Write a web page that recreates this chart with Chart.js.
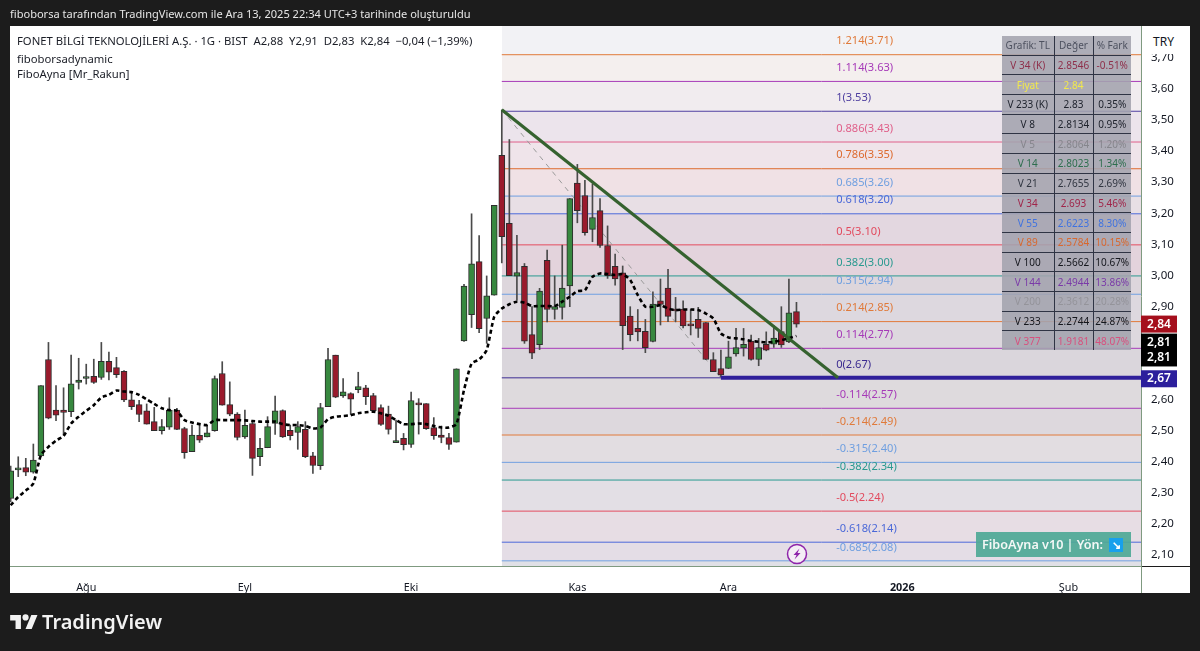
<!DOCTYPE html>
<html lang="tr">
<head>
<meta charset="utf-8">
<title>FONET 1G</title>
<script src="https://cdn.jsdelivr.net/npm/chart.js@4"></script>
<style>
  html, body { margin: 0; padding: 0; width: 1200px; height: 651px; overflow: hidden; background: #1c1c1c; }
  body { position: relative; font-family: "Noto Sans", sans-serif; }
  canvas { position: absolute; left: 0; top: 0; }
  .abs { position: absolute; white-space: pre; }
  #shot { left: 10px; top: 6px; color: #e6e6e6; font-size: 11.05px; line-height: 16px; }
  .legend { left: 17px; color: #1a1d26; font-size: 11.3px; line-height: 15px; }
  #tryBox { left: 1144px; top: 30px; width: 39px; height: 24px; padding-right: 4px; background: #fff; border-radius: 4px; color: #131722;
            font-size: 12px; line-height: 24px; text-align: center; }
  #fiboTable { position: absolute; left: 1002px; top: 36px; width: 129px; table-layout: fixed; border-collapse: collapse;
               background: rgba(163, 163, 174, .88); font-size: 10px; }
  #fiboTable td { height: 18.7px; padding: 0; text-align: center; border: 1px solid #2f3444; border-left: 0; border-right: 0; }
  #fiboTable td + td { border-left: 1px solid #2f3444; }
  #fiboTable tr:first-child td { border-top: 0; }
  #fiboTable tr:last-child td { border-bottom: 0; }
  #badge { left: 976px; top: 532px; width: 155px; height: 25px; background: rgba(78, 168, 150, .92); color: #f4f8f6;
           font-size: 12.6px; line-height: 25px; text-indent: 6px; font-weight: 600; }
  #badge span { position: absolute; left: 133px; top: 6px; width: 14px; height: 14px; background: #18a0ec; color: #fff;
                font-size: 11px; line-height: 14px; text-indent: 0; text-align: center; font-weight: 700; }
  #brand { left: 42px; top: 607px; color: #f2f2f2; font-size: 20px; line-height: 30px; font-weight: 600; letter-spacing: 0; }
</style>
</head>
<body>
<canvas id="chart" width="1200" height="651"></canvas>
<div class="abs" id="shot">fiboborsa tarafından TradingView.com ile Ara 13, 2025 22:34 UTC+3 tarihinde oluşturuldu</div>
<div class="abs legend" style="top:33px">FONET BİLGİ TEKNOLOJİLERİ A.Ş. · 1G · BIST  A2,88  Y2,91  D2,83  K2,84  −0,04 (−1,39%)</div>
<div class="abs legend" style="top:51px">fiboborsadynamic</div>
<div class="abs legend" style="top:66px">FiboAyna [Mr_Rakun]</div>
<table id="fiboTable"><colgroup><col style="width:52px"><col style="width:39px"><col style="width:38px"></colgroup><tbody id="fiboBody"></tbody></table>
<div class="abs" id="tryBox">TRY</div>
<div class="abs" id="badge">FiboAyna v10 | Yön: <span>↘</span></div>
<svg class="abs" style="left:786px;top:543px" width="22" height="22" viewBox="0 0 22 22">
  <circle cx="11" cy="11" r="9.5" fill="#f4eef5" stroke="#8e24aa" stroke-width="1.5"/>
  <path d="M13.5 5.5 L7.5 12 H10.5 L8.5 16.5 L14.5 10 H11.5 Z" fill="#8e24aa"/>
</svg>
<svg class="abs" style="left:10px;top:612px" width="28" height="20" viewBox="0 0 36 26">
  <path fill="#f2f2f2" d="M14 22H7V11H0V4h14v18zM28 22h-8l7.5-18h8L28 22z"/><circle fill="#f2f2f2" cx="20" cy="7" r="4"/>
</svg>
<div class="abs" id="brand">TradingView</div>

<script>
// daily candles
const opens = [2.279,2.371,2.378,2.363,2.416,2.726,2.563,2.563,2.558,2.652,2.665,2.672,2.668,2.72,2.70,2.688,2.596,2.581,2.561,2.526,2.497,2.508,2.563,2.504,2.429,2.482,2.477,2.497,2.681,2.581,2.55,2.477,2.52,2.413,2.442,2.52,2.562,2.498,2.491,2.501,2.416,2.384,2.574,2.74,2.609,2.616,2.629,2.635,2.61,2.571,2.55,2.458,2.472,2.453,2.582,2.584,2.507,2.483,2.475,2.46,2.786,2.87,3.041,2.858,2.933,3.383,3.164,2.994,3.026,2.806,2.774,3.045,2.887,2.894,2.963,3.294,3.254,3.145,3.205,3.093,3.026,3.005,2.866,2.826,2.817,2.784,2.915,2.956,2.885,2.888,2.837,2.855,2.845,2.726,2.697,2.697,2.744,2.763,2.785,2.726,2.775,2.775,2.816,2.783,2.88];
const closes = [2.368,2.375,2.363,2.402,2.642,2.537,2.547,2.556,2.648,2.66,2.667,2.652,2.72,2.685,2.677,2.596,2.574,2.549,2.518,2.497,2.51,2.563,2.501,2.426,2.483,2.466,2.49,2.665,2.579,2.55,2.475,2.514,2.408,2.44,2.51,2.561,2.477,2.481,2.51,2.413,2.385,2.571,2.726,2.605,2.622,2.598,2.639,2.606,2.561,2.517,2.501,2.465,2.452,2.594,2.58,2.503,2.481,2.475,2.453,2.696,2.962,3.034,2.825,2.931,3.222,3.121,2.996,3.006,2.785,2.746,2.946,2.887,2.896,2.956,3.244,3.205,3.134,3.183,3.093,2.996,2.985,2.835,2.806,2.815,2.764,2.904,2.903,2.865,2.882,2.834,2.834,2.826,2.726,2.687,2.676,2.735,2.764,2.775,2.726,2.764,2.756,2.795,2.773,2.876,2.84];
const highs = [2.383,2.413,2.408,2.454,2.642,2.781,2.642,2.635,2.74,2.73,2.711,2.727,2.781,2.75,2.733,2.69,2.62,2.595,2.583,2.572,2.533,2.603,2.569,2.508,2.515,2.515,2.515,2.673,2.719,2.654,2.555,2.563,2.526,2.472,2.542,2.608,2.564,2.515,2.526,2.526,2.427,2.585,2.762,2.74,2.665,2.619,2.685,2.643,2.617,2.58,2.576,2.531,2.488,2.621,2.60,2.584,2.539,2.512,2.488,2.696,2.968,3.195,3.125,2.995,3.222,3.529,3.434,3.126,3.035,2.896,2.955,3.078,2.995,3.094,3.244,3.354,3.303,3.291,3.244,3.156,3.065,3.027,2.896,2.887,2.855,2.944,2.985,3.016,2.926,2.915,2.887,2.894,2.845,2.748,2.756,2.785,2.826,2.826,2.805,2.794,2.815,2.835,2.896,2.985,2.91];
const lows = [2.268,2.349,2.352,2.36,2.413,2.535,2.529,2.483,2.542,2.631,2.647,2.649,2.662,2.66,2.668,2.59,2.565,2.526,2.518,2.497,2.486,2.501,2.50,2.408,2.429,2.459,2.477,2.495,2.579,2.545,2.467,2.472,2.353,2.384,2.442,2.485,2.475,2.467,2.437,2.41,2.359,2.372,2.574,2.603,2.604,2.549,2.619,2.581,2.555,2.514,2.486,2.458,2.435,2.443,2.486,2.501,2.469,2.458,2.437,2.46,2.784,2.829,2.812,2.778,2.933,3.037,2.996,2.917,2.778,2.729,2.758,2.847,2.856,2.856,2.896,3.166,3.126,3.105,3.087,2.987,2.965,2.758,2.786,2.786,2.748,2.783,2.837,2.848,2.848,2.828,2.805,2.797,2.726,2.687,2.67,2.697,2.737,2.737,2.724,2.706,2.754,2.765,2.765,2.78,2.83];
// dashed black moving average
const maValues = [2.257,2.284,2.304,2.327,2.418,2.445,2.465,2.48,2.52,2.542,2.561,2.579,2.604,2.612,2.626,2.623,2.621,2.612,2.598,2.583,2.569,2.563,2.561,2.531,2.523,2.518,2.515,2.531,2.531,2.531,2.531,2.53,2.528,2.526,2.526,2.526,2.518,2.515,2.515,2.512,2.504,2.507,2.534,2.542,2.544,2.547,2.553,2.556,2.558,2.553,2.545,2.531,2.518,2.518,2.52,2.518,2.512,2.507,2.507,2.518,2.628,2.713,2.726,2.756,2.864,2.89,2.904,2.912,2.909,2.898,2.898,2.898,2.898,2.912,2.928,2.946,2.949,2.992,3.003,3.001,2.998,3.001,2.982,2.933,2.896,2.896,2.901,2.89,2.885,2.887,2.887,2.885,2.874,2.858,2.81,2.797,2.794,2.791,2.786,2.783,2.781,2.783,2.788,2.794,2.802];

// fib levels: ratio, printed price, line price as read against the axis
const fibRatios = ['1.214','1.114','1','0.886','0.786','0.685','0.618','0.5','0.382','0.315','0.214','0.114','0','-0.114','-0.214','-0.315','-0.382','-0.5','-0.618','-0.685'];
const fibPrices = ['3.71','3.63','3.53','3.43','3.35','3.26','3.20','3.10','3.00','2.94','2.85','2.77','2.67','2.57','2.49','2.40','2.34','2.24','2.14','2.08'];
const fibLevels = [3.707,3.621,3.525,3.426,3.34,3.252,3.195,3.095,2.995,2.936,2.848,2.762,2.667,2.569,2.483,2.395,2.338,2.238,2.138,2.078];
const fibColors = ['#e07a3a','#a63ab8','#4f3fa0','#e0608a','#dd6a2e','#6f9fe0','#4a68d8','#e24a5e','#2a9a90','#6f9fe0','#e07a3a','#a63ab8','#3a2a90','#a63ab8','#e07a3a','#6f9fe0','#2a9a90','#e24a5e','#4a68d8','#6f9fe0'];
const bandColors = ['#f4efee','#f1ecef','#ece4ec','#efe4ea','#f0e1e5','#e8dfe5','#e3d7e0','#e3d3dc','#ddd6dc','#ddd8df','#ddd8de','#dad6dc','#dedadd','#ddd8dd','#e2dde1','#e0dde3','#e3dfe5','#e7dde4','#e4dde6','#e0e0e6'];
const topBandColor = '#f2f2f5';

// axis labels
const priceTicks = [3.7,3.6,3.5,3.4,3.3,3.2,3.1,3.0,2.9,2.6,2.5,2.4,2.3,2.2,2.1];
const timeTicks = [10,31,53,75,95,118,140];
const timeLabels = ['Ağu','Eyl','Eki','Kas','Ara','2026','Şub'];

// right hand price tags
const tagLabels = ['2,84','2,81','2,81','2,67'];
const tagPrices = [2.84,2.782,2.731,2.664];
const tagColors = ['#a50f1c','#000000','#000000','#2c1f9c'];

// MA table top right
const tableNames = ['Grafik: TL','V 34 (K)','Fiyat','V 233 (K)','V 8','V 5','V 14','V 21','V 34','V 55','V 89','V 100','V 144','V 200','V 233','V 377'];
const tableValues = ['Değer','2.8546','2.84','2.83','2.8134','2.8064','2.8023','2.7655','2.693','2.6223','2.5784','2.5662','2.4944','2.3612','2.2744','1.9181'];
const tableDiffs = ['% Fark','-0.51%','','0.35%','0.95%','1.20%','1.34%','2.69%','5.46%','8.30%','10.15%','10.67%','13.86%','20.28%','24.87%','48.07%'];
const tableColors = ['#4e5260','#8e2f4a','#f2e84a','#20242e','#20242e','#85858c','#2e6e4e','#303540','#a0254a','#3f72e0','#d8682e','#14161c','#7a3aa8','#94949a','#14161c','#d8507e'];

const fiboBody = document.getElementById('fiboBody');
tableNames.forEach((name, i) => {
    const row = document.createElement('tr');
    row.style.color = tableColors[i];
    [name, tableValues[i], tableDiffs[i]].forEach(text => {
        const cell = document.createElement('td');
        cell.textContent = text;
        row.appendChild(cell);
    });
    fiboBody.appendChild(row);
});

// pane limits in price and bar index
const yMin = 2.0614, yMax = 3.7994, xMin = -0.09, xMax = 149.6;
const fibStart = 65;

const upColor = '#37883f', downColor = '#9a1a2c', edgeColor = '#2d2d2d';
const bars = opens.map((_, i) => i);

const datasets = [];

// bands behind everything, one per fib level
datasets.push({
    type: 'line', order: 20, data: [{x: fibStart, y: yMax}, {x: xMax, y: yMax}],
    borderWidth: 0, pointRadius: 0,
    fill: {target: {value: fibLevels[0]}, above: topBandColor, below: topBandColor}
});
fibLevels.forEach((level, i) => {
    const next = i + 1 < fibLevels.length ? fibLevels[i + 1] : yMin;
    datasets.push({
        type: 'line', order: 19, data: [{x: fibStart, y: level}, {x: xMax, y: level}],
        borderWidth: 0, pointRadius: 0,
        fill: {target: {value: next}, above: bandColors[i], below: bandColors[i]}
    });
});
fibLevels.forEach((level, i) => {
    datasets.push({
        type: 'line', order: 10, data: [{x: fibStart, y: level}, {x: xMax, y: level}],
        borderColor: fibColors[i], borderWidth: 1, pointRadius: 0, fill: false
    });
});

// dashed base of the fib, level zero line, trend line
datasets.push({
    type: 'line', order: 9, data: [{x: fibStart, y: 3.53}, {x: 94, y: 2.667}],
    borderColor: '#9a9a9a', borderWidth: 1, borderDash: [5, 5], pointRadius: 0, fill: false
});
datasets.push({
    type: 'line', order: 2, data: [{x: 94, y: 2.667}, {x: xMax, y: 2.667}],
    borderColor: '#2f1f9a', borderWidth: 4, pointRadius: 0, fill: false
});
datasets.push({
    type: 'line', order: 1, data: [{x: fibStart, y: 3.53}, {x: 109.5, y: 2.667}],
    borderColor: '#35622f', borderWidth: 3.2, pointRadius: 0, fill: false
});

// candles: wick and body are two floating bars on the same index
datasets.push({
    type: 'bar', order: 5, grouped: false, barThickness: 1,
    data: bars.map(i => ({x: i, y: [lows[i], highs[i]]})),
    backgroundColor: '#4a4a4a', borderWidth: 0
});
datasets.push({
    type: 'bar', order: 4, grouped: false, barThickness: 6, minBarLength: 2,
    data: bars.map(i => ({x: i, y: [opens[i], closes[i]]})),
    backgroundColor: bars.map(i => closes[i] >= opens[i] ? upColor : downColor),
    borderColor: edgeColor, borderWidth: 1, borderSkipped: false
});
datasets.push({
    type: 'line', order: 3, data: bars.map(i => ({x: i, y: maValues[i]})),
    borderColor: '#000000', borderWidth: 2.6, borderDash: [4, 3], pointRadius: 0, fill: false, tension: 0.2
});

// white pane and axis strip under the chart
const panePlugin = {
    id: 'pane',
    beforeDraw(chart) {
        const {ctx, scales} = chart;
        ctx.save();
        ctx.fillStyle = '#ffffff';
        ctx.fillRect(scales.x.left, scales.y.top, scales.y.right - scales.x.left, scales.x.bottom - scales.y.top);
        ctx.restore();
    }
};

// fib captions, price tags and the corner lines of the axis strip
const labelPlugin = {
    id: 'labels',
    afterDatasetsDraw(chart) {
        const {ctx, scales} = chart;
        ctx.save();
        ctx.font = '11.1px "Noto Sans"';
        ctx.textAlign = 'left';
        ctx.textBaseline = 'middle';
        fibLevels.forEach((level, i) => {
            ctx.fillStyle = fibColors[i];
            ctx.fillText(fibRatios[i] + '(' + fibPrices[i] + ')', scales.x.getPixelForValue(109.25), scales.y.getPixelForValue(level) - 13.5);
        });
        ctx.restore();
    },
    afterDraw(chart) {
        const {ctx, scales} = chart;
        ctx.save();
        ctx.strokeStyle = '#1c1c1c';
        ctx.beginPath();
        ctx.moveTo(scales.y.left, scales.y.bottom + 0.5);
        ctx.lineTo(scales.y.right, scales.y.bottom + 0.5);
        ctx.stroke();
        ctx.strokeStyle = '#7f9a80';
        ctx.beginPath();
        ctx.moveTo(scales.y.left + 0.5, scales.y.bottom);
        ctx.lineTo(scales.y.left + 0.5, scales.x.bottom);
        ctx.stroke();

        ctx.font = '600 12px "Noto Sans"';
        ctx.textAlign = 'center';
        ctx.textBaseline = 'middle';
        tagLabels.forEach((label, i) => {
            const y = scales.y.getPixelForValue(tagPrices[i]);
            ctx.fillStyle = tagColors[i];
            ctx.fillRect(scales.y.left, y - 8.5, 36, 17);
            ctx.fillStyle = '#ffffff';
            ctx.fillText(label, scales.y.left + 18, y);
        });
        ctx.restore();
    }
};

new Chart(document.getElementById('chart'), {
    type: 'bar',
    data: {datasets},
    plugins: [panePlugin, labelPlugin],
    options: {
        responsive: false,
        animation: false,
        devicePixelRatio: 1,
        layout: {padding: {left: 10, right: 10, top: 26, bottom: 58}},
        plugins: {legend: {display: false}, tooltip: {enabled: false}, title: {display: false}},
        scales: {
            x: {
                type: 'linear', min: xMin, max: xMax, offset: false,
                grid: {display: false},
                border: {color: '#7f9a80'},
                afterFit(axis) { axis.height = 27; },
                afterBuildTicks(axis) { axis.ticks = timeTicks.map(value => ({value})); },
                ticks: {
                    autoSkip: false, maxRotation: 0, padding: 7, color: '#131722',
                    font: ctx => ({family: '"Noto Sans"', size: 10.8, weight: ctx.tick && ctx.tick.value === 118 ? '700' : '400'}),
                    callback: value => timeLabels[timeTicks.indexOf(value)]
                }
            },
            y: {
                position: 'right', min: yMin, max: yMax,
                grid: {display: false},
                border: {color: '#7f9a80'},
                afterFit(axis) { axis.width = 49; },
                afterBuildTicks(axis) { axis.ticks = priceTicks.map(value => ({value})); },
                ticks: {
                    autoSkip: false, padding: 2, labelOffset: 1, color: '#131722',
                    font: {family: '"Noto Sans"', size: 11.5},
                    callback: value => value.toFixed(2).replace('.', ',')
                }
            }
        }
    }
});
</script>
</body>
</html>
